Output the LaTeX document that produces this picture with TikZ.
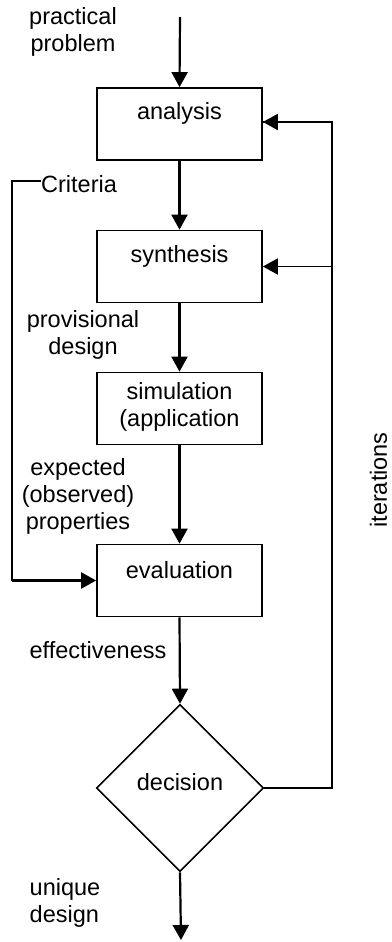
\documentclass[tikz,border=0pt]{standalone}
\usepackage{fontspec}
\setmainfont{Liberation Sans}
\usetikzlibrary{shapes.geometric,arrows.meta}
\begin{document}
\begin{tikzpicture}[x=1pt,y=-1pt,
  every node/.style={font=\fontsize{23.5}{27}\selectfont, inner sep=0pt},
  txt/.style={align=center},
  box/.style={draw, line width=1.7pt, minimum width=165pt, minimum height=72pt},
  decbox/.style={draw, diamond, aspect=1, line width=1.6pt, minimum width=167pt, minimum height=167pt},
  tip/.style={-{Triangle[length=15pt,width=16pt]}},
  flow/.style={line width=2.2pt, tip},
  loopline/.style={line width=1.5pt},
  looparrow/.style={line width=1.8pt, tip},
  critline/.style={line width=2pt}
]
\useasboundingbox (0,0) rectangle (391,942);

% process boxes
\node[box] (ana) at (179.5,124) {};
\node[box] (syn) at (179.5,266.5) {};
\node[box] (sim) at (179.5,408.5) {};
\node[box] (eva) at (179.5,580.5) {};
\node[decbox] (dec) at (180,788) {};

% box captions
\node (anat) at (179.5,113) {analysis};
\node (synt) at (179.5,256) {synthesis};
\node[txt] (simt) at (179.5,407) {simulation\\(application};
\node (evat) at (179.5,570) {evaluation};
\node (dect) at (180,782) {decision};

% side labels
\node[txt] (prob) at (73,32) {practical\\problem};
\node[anchor=west] (crit) at (41,184) {Criteria};
\node[txt] (prov) at (83,335) {provisional\\design};
\node[txt] (prop) at (78,496) {expected\\(observed)\\properties};
\node (eff) at (98,650) {effectiveness};
\node[align=left] (uniq) at (65,903) {unique\\design};
\node[rotate=90] (iter) at (378.5,480) {iterations};

% main flow
\coordinate (start) at (180,17);
\coordinate (finish) at (181,940);
\draw[flow] (start) -- (ana.north);
\draw[flow] (ana.south) -- (syn.north);
\draw[flow] (syn.south) -- (sim.north);
\draw[flow] (sim.south) -- (eva.north);
\draw[flow] (eva.south) -- (dec.north);
\draw[flow] (dec.south) -- (finish);

% criteria feed into evaluation
\coordinate (cl) at (12,181);
\draw[critline] (crit.west |- cl) -- (cl) -- (cl |- eva.west);
\draw[flow] (cl |- eva.west) -- (eva.west);

% iteration loop back from the decision
\coordinate (rc) at (332,122);
\draw[loopline] (dec.east) -| (rc) -- (rc -| ana.east);
\draw[looparrow] (rc) -- (rc -| ana.east);
\draw[looparrow] (rc |- syn.east) -- (syn.east);
\end{tikzpicture}
\end{document}
